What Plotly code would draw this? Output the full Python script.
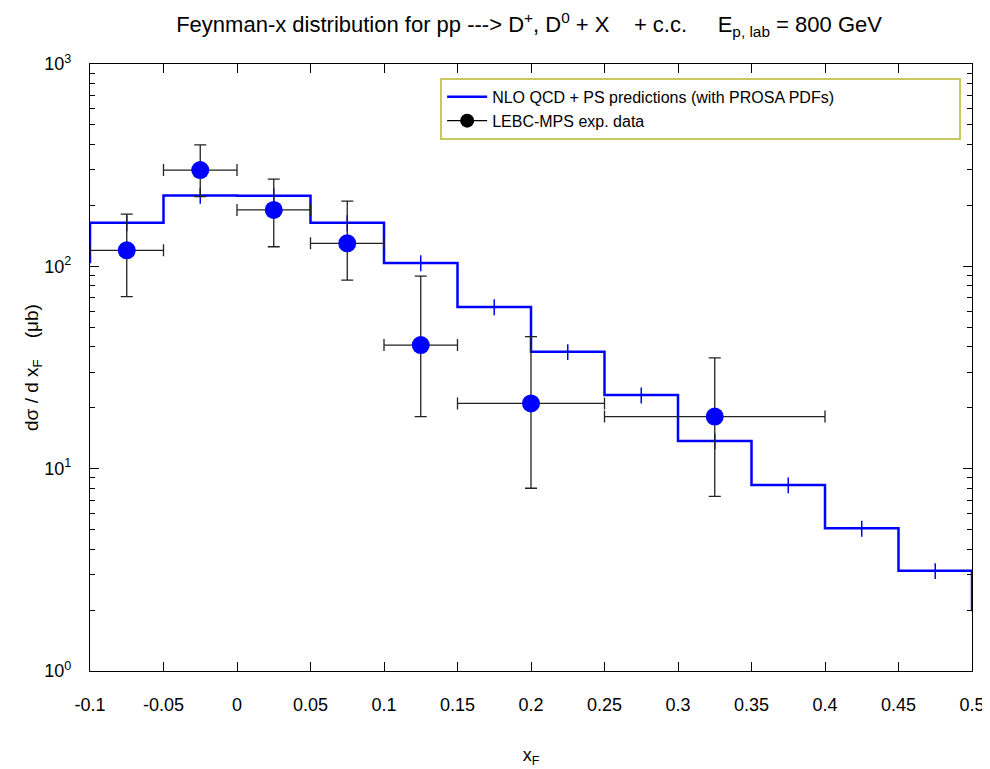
import plotly.graph_objects as go

# Theory histogram (NLO QCD + PS), bin centres and values
th_x = [-0.125, -0.075, -0.025, 0.025, 0.075, 0.125, 0.175, 0.225, 0.275,
        0.325, 0.375, 0.425, 0.475, 0.525]
th_y = [105, 164, 224, 223, 164, 104, 63, 37.8, 23.1, 13.7, 8.3, 5.07, 3.13, 2.0]
th_err_pct = 9

# LEBC-MPS data
d_x = [-0.075, -0.025, 0.025, 0.075, 0.125, 0.2, 0.325]
d_y = [120, 299, 190, 130, 40.8, 21.0, 18.1]
d_hi = [181, 398, 270, 210, 89.5, 44.9, 35.3]
d_lo = [70.8, 221, 125, 85.5, 18.1, 8.0, 7.3]
d_xerr = [0.025, 0.025, 0.025, 0.025, 0.025, 0.05, 0.075]

x_ticks = [-0.1, -0.05, 0, 0.05, 0.1, 0.15, 0.2, 0.25, 0.3, 0.35, 0.4, 0.45, 0.5]
x_ticktext = ["-0.1", "-0.05", "0", "0.05", "0.1", "0.15", "0.2", "0.25", "0.3",
              "0.35", "0.4", "0.45", "0.5"]
y_ticks = [1, 10, 100, 1000]
y_ticktext = ["10<sup>0</sup>", "10<sup>1</sup>", "10<sup>2</sup>", "10<sup>3</sup>"]
y_minor = [m * 10 ** k for k in range(0, 3) for m in range(2, 10)]

FONT = "Liberation Sans, Arial, Helvetica, sans-serif"
BLUE = "#0000ff"
NB = "\u00a0"

fig = go.Figure()

# histogram line
fig.add_trace(go.Scatter(
    x=th_x, y=th_y, mode="lines", line=dict(color=BLUE, width=2.5, shape="hvh"),
    name="NLO QCD + PS predictions (with PROSA PDFs)", showlegend=True,
))
# small theory uncertainties at bin centres
fig.add_trace(go.Scatter(
    x=th_x, y=th_y, mode="markers", marker=dict(size=1, color=BLUE, opacity=0),
    error_y=dict(type="percent", value=th_err_pct, color=BLUE, thickness=1.5, width=0),
    showlegend=False, hoverinfo="skip",
))

# data
fig.add_trace(go.Scatter(
    x=d_x, y=d_y, mode="markers",
    marker=dict(size=18, color=BLUE),
    error_y=dict(type="data", symmetric=False,
                 array=[h - y for h, y in zip(d_hi, d_y)],
                 arrayminus=[y - l for l, y in zip(d_lo, d_y)],
                 color="#222222", thickness=1.3, width=6),
    error_x=dict(type="data", array=d_xerr, color="#222222", thickness=1.3, width=6),
    showlegend=False,
))
# legend sample for data
fig.add_trace(go.Scatter(
    x=[None], y=[None], mode="lines+markers",
    line=dict(color="black", width=1.3), marker=dict(size=14, color="black"),
    name="LEBC-MPS exp. data", showlegend=True,
))

fig.update_layout(
    width=982, height=761,
    margin=dict(l=82, r=18, t=56, b=98, autoexpand=False),
    paper_bgcolor="white", plot_bgcolor="white",
    font=dict(family=FONT, size=18, color="black"),
    title=dict(
        text="Feynman-x distribution for pp ---> D<sup>+</sup>, D<sup>0</sup> + X"
             + NB * 4 + "+ c.c." + NB * 5 + "E<sub>p, lab</sub> = 800 GeV",
        x=0.5306, xanchor="center", y=0.978, yanchor="middle",
        font=dict(family=FONT, size=22, color="black"),
        automargin=False,
    ),
    legend=dict(
        x=0.397, xanchor="left", y=0.977, yanchor="top",
        orientation="h", entrywidth=462, entrywidthmode="pixels",
        bordercolor="#c8c860", borderwidth=2, bgcolor="white",
        font=dict(family=FONT, size=16, color="black"),
        tracegroupgap=0, itemwidth=40,
    ),
    showlegend=True,
)

fig.update_xaxes(
    range=[-0.1, 0.5], tickvals=x_ticks, ticktext=x_ticktext,
    ticks="inside", ticklen=9, tickwidth=1, tickcolor="black",
    showline=True, linecolor="black", linewidth=1.2, mirror="allticks",
    showgrid=False, zeroline=False, automargin=False,
    tickfont=dict(family=FONT, size=18), ticklabelstandoff=17,
    title=dict(text="x<sub>F</sub>", font=dict(family=FONT, size=18), standoff=34),
)
fig.update_yaxes(
    type="log", range=[0, 3], tickvals=y_ticks, ticktext=y_ticktext,
    ticks="inside", ticklen=9, tickwidth=1, tickcolor="black",
    minor=dict(tickvals=y_minor, ticks="inside", ticklen=5, tickcolor="black", tickwidth=1),
    showline=True, linecolor="black", linewidth=1.2, mirror="allticks",
    showgrid=False, zeroline=False, automargin=False,
    tickfont=dict(family=FONT, size=18), ticklabelstandoff=14,
    title=dict(text="dσ / d x<sub>F</sub>" + NB * 4 + "(μb)", font=dict(family=FONT, size=19),
               standoff=0),
)

fig.write_html("out.html")
